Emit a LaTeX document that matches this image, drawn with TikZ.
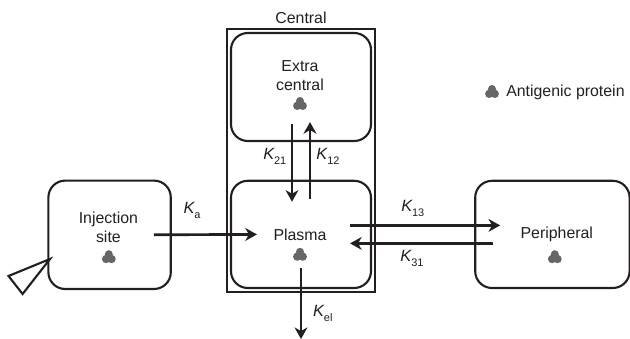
\documentclass[tikz,border=0pt]{standalone}
\usepackage{fontspec}
\setmainfont{Liberation Sans}
\usepackage{xcolor}
\usetikzlibrary{positioning, fit, arrows.meta}
\definecolor{protG}{HTML}{666666}
\definecolor{lineK}{HTML}{231F20}
\newcommand{\rate}[1]{{\fontsize{11.6}{13}\selectfont\itshape K}\raisebox{-3.6pt}{\fontsize{7.8}{9}\selectfont #1}}

\begin{document}
\begin{tikzpicture}[font=\fontsize{11.3}{13.5}\selectfont, text=lineK,
    compart/.style={draw=lineK, rounded corners=0.42cm, line width=1.5pt, inner sep=0pt},
    flow/.style={-{Stealth[length=0.29cm, width=0.32cm, inset=0.09cm]}, draw=lineK, line width=1.9pt},
    ratelab/.style={inner sep=0pt},
    boxlab/.style={align=center, inner sep=0pt}]
  \useasboundingbox (0,0) rectangle (15.75,8.45);
  % compartments
  \node[compart, minimum width=3.06cm, minimum height=2.71cm] (inj) at (2.74,2.58) {};
  \node[compart, minimum width=3.5cm, minimum height=2.7cm] (extra) at (7.525,6.275) {};
  \node[compart, minimum width=3.5cm, minimum height=2.68cm] (plasma) at (7.525,2.59) {};
  \node[compart, minimum width=3.86cm, minimum height=2.68cm] (peri) at (13.81,2.59) {};
  \node[draw=lineK, line width=1.1pt, inner sep=0.07cm, fit=(extra)(plasma)] (central) {};
  \node[above=0.12cm of central, inner sep=0pt] (centrallab) {Central};
  % compartment labels
  \node[boxlab] (injlab) at (2.71,2.76) {Injection\\site};
  \node[boxlab] (extralab) at (7.5,6.56) {Extra\\central};
  \node[boxlab] (plasmalab) at (7.5,2.58) {Plasma};
  \node[boxlab] (perilab) at (13.92,2.58) {Peripheral};
  \node[boxlab, anchor=west] (legend) at (12.65,6.15) {Antigenic protein};
  % antigenic protein marks
  \foreach \x/\y in {2.72/2.02, 7.5/5.85, 7.5/2.08, 13.87/2.02, 12.3/6.15}{
    \fill[protG] (\x,\y+0.075) circle (0.1);
    \fill[protG] (\x-0.068,\y-0.045) circle (0.105);
    \fill[protG] (\x+0.068,\y-0.045) circle (0.105);
    \fill[protG] (\x-0.1,\y-0.02) -- (\x,\y+0.12) -- (\x+0.1,\y-0.02) -- cycle;
  }
  % syringe tip
  \draw[lineK, line width=1.5pt, line join=miter] (1.25,1.975) -- (0.2125,1.55) -- (0.565,1.10) -- cycle;
  % transfers
  \draw[flow] ([xshift=-0.45cm]inj.east) -- ([xshift=0.675cm]plasma.west);
  \draw[flow] ([xshift=-0.225cm, yshift=0.45cm]extra.south) -- ([xshift=-0.225cm, yshift=-0.55cm]plasma.north);
  \draw[flow] ([xshift=0.225cm, yshift=-0.475cm]plasma.north) -- ([xshift=0.225cm, yshift=0.5cm]extra.south);
  \draw[flow] ([xshift=-0.55cm, yshift=0.225cm]plasma.east) -- ([xshift=0.65cm, yshift=0.225cm]peri.west);
  \draw[flow] ([xshift=0.475cm, yshift=-0.225cm]peri.west) -- ([xshift=-0.55cm, yshift=-0.225cm]plasma.east);
  \coordinate[below=1.25cm of plasma.south] (out);
  \draw[flow] ([yshift=0.525cm]plasma.south) -- (out);
  % rate constants
  \node[ratelab] (ka) at (4.8,3.2) {\rate{a}};
  \node[ratelab] (k21) at (6.87,4.53) {\rate{21}};
  \node[ratelab] (k12) at (8.2,4.53) {\rate{12}};
  \node[ratelab] (k13) at (10.32,3.23) {\rate{13}};
  \node[ratelab] (k31) at (10.3,1.98) {\rate{31}};
  \node[ratelab] (kel) at (8.07,0.62) {\rate{el}};
\end{tikzpicture}
\end{document}
